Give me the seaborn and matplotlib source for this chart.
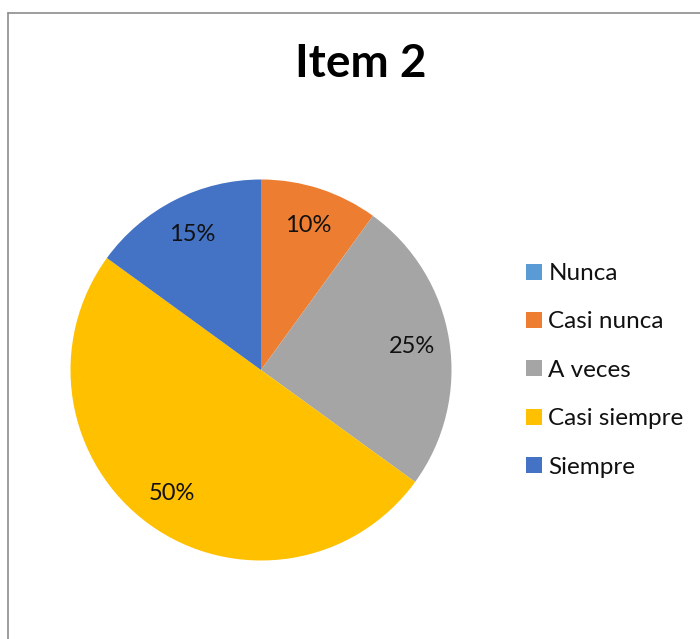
import matplotlib
matplotlib.use("Agg")
import matplotlib.pyplot as plt
from matplotlib.lines import Line2D
import seaborn as sns

categories = ["Nunca", "Casi nunca", "A veces", "Casi siempre", "Siempre"]
values = [0, 10, 25, 50, 15]
colors = ["#5B9BD5", "#ED7D31", "#A5A5A5", "#FFC000", "#4472C4"]
title = "Item 2"

sns.set_theme(style="white")
plt.rcParams["font.family"] = ["Lato", "DejaVu Sans"]

W, H = 700, 639
fig = plt.figure(figsize=(W / 100, H / 100), dpi=100)
fig.patch.set_facecolor("white")

# frame lines (top and left visible)
fig.add_artist(Line2D([8 / W, 1], [1 - 12.5 / H, 1 - 12.5 / H], color="#8c8c8c", lw=1.2))
fig.add_artist(Line2D([8 / W, 8 / W], [0, 1 - 12.5 / H], color="#8c8c8c", lw=1.2))

cx, cy, r = 261, 370, 190.5
ax = fig.add_axes([(cx - r) / W, 1 - (cy + r) / H, 2 * r / W, 2 * r / H])
pal = sns.color_palette(colors)

def fmt(p):
    return f"{p:.0f}%" if p > 0.5 else ""

wedges, texts, autotexts = ax.pie(
    values, colors=pal, startangle=90, counterclock=False,
    autopct=fmt, pctdistance=0.8,
    wedgeprops=dict(linewidth=0),
    textprops=dict(fontsize=17, color="#111111"),
)
ax.set_xlim(-1, 1)
ax.set_ylim(-1, 1)
ax.set_aspect("equal")
ax.axis("off")

fig.text(361 / W, 1 - 64 / H, title, ha="center", va="center",
         fontsize=33, fontweight="bold", color="black")

handles = [Line2D([], [], marker="s", linestyle="none", markersize=11,
                  markerfacecolor=c, markeredgewidth=0) for c in colors]
fig.legend(handles, categories, loc="upper left",
           bbox_to_anchor=(524 / W, 1 - 263 / H), frameon=False,
           fontsize=17.5, labelspacing=1.13, handlelength=0.8,
           handletextpad=0.2, borderpad=0, borderaxespad=0,
           labelcolor="#111111")

fig.savefig("out.png", dpi=100)
